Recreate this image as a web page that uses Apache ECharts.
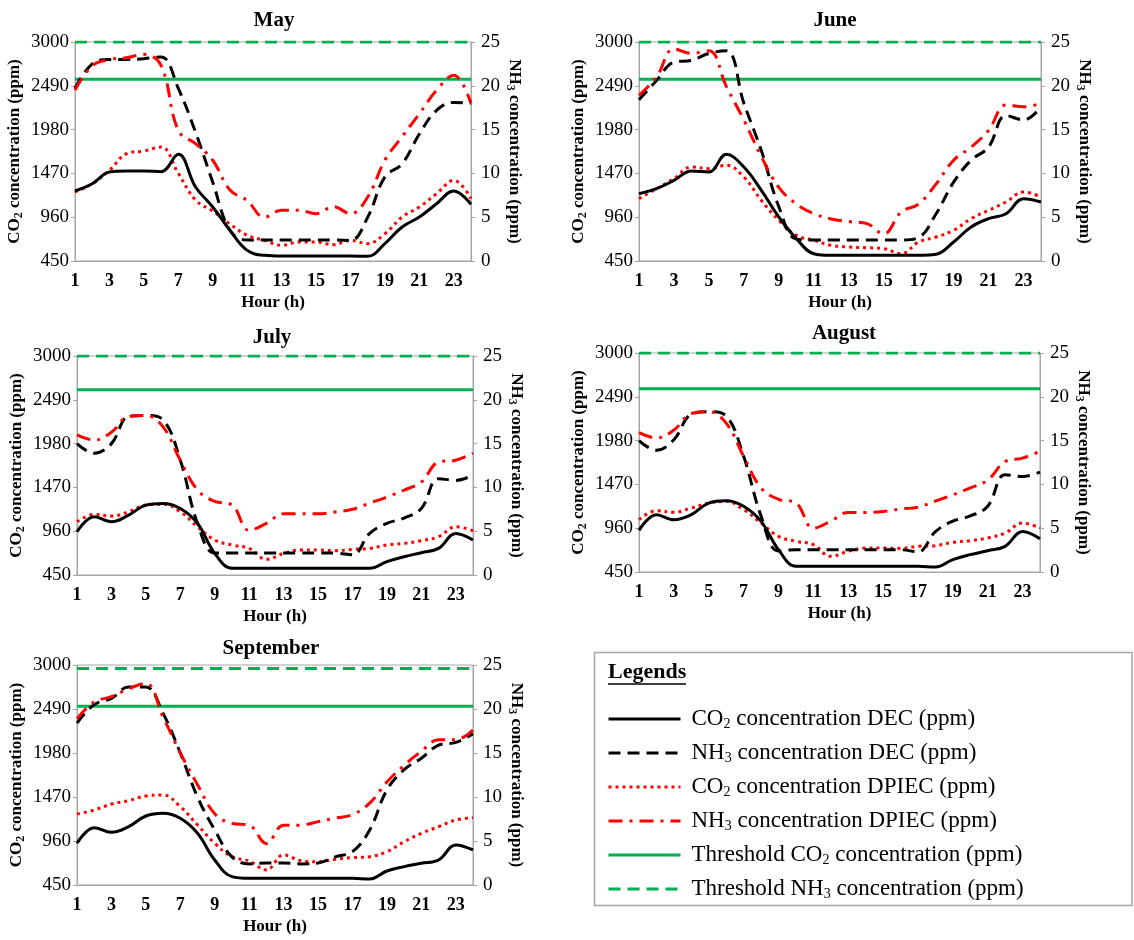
<!DOCTYPE html>
<html>
<head>
<meta charset="utf-8">
<title>CO2 and NH3 concentration by hour, May to September</title>
<script src="https://cdn.jsdelivr.net/npm/echarts@6/dist/echarts.min.js"></script>
<style>
  html, body { margin: 0; padding: 0; background: #fff; }
  #chart { width: 1134px; height: 940px; }
</style>
</head>
<body>
<div id="chart"></div>
<script>
// x axis categories and left axis ticks
const hours = ['1', '2', '3', '4', '5', '6', '7', '8', '9', '10', '11', '12',
  '13', '14', '15', '16', '17', '18', '19', '20', '21', '22', '23', '24'];
const co2Ticks = [450, 960, 1470, 1980, 2490, 3000];

const months = ['May', 'June', 'July', 'August', 'September'];
const thresholdCo2 = [2565, 2565, 2608, 2585, 2521];
const thresholdNh3 = [25, 25, 25, 25, 24.6];

// May
const mayCo2Dec = [1265, 1350, 1486, 1498, 1498, 1490, 1692, 1312, 1079, 807, 574, 516, 508, 508, 508, 508, 508, 504, 652, 846, 962, 1117, 1265, 1110];
const mayNh3Dec = [19.7, 22.5, 23.0, 23.0, 23.1, 23.3, 19.7, 14.7, 9.0, 3.5, 2.4, 2.4, 2.4, 2.4, 2.4, 2.4, 2.35, 5.0, 9.6, 11.1, 14.5, 17.2, 18.1, 18.0];
const mayCo2Dpiec = [1253, 1350, 1506, 1700, 1731, 1777, 1470, 1160, 1030, 880, 749, 691, 632, 671, 671, 640, 691, 652, 768, 962, 1079, 1234, 1389, 1176];
const mayNh3Dpiec = [19.5, 22.3, 23.0, 23.2, 23.6, 22.3, 14.9, 13.4, 11.5, 8.1, 6.9, 5.0, 5.8, 5.8, 5.4, 6.2, 5.4, 7.3, 11.5, 14.2, 16.8, 19.5, 21.2, 18.0];

// June
const juneCo2Dec = [1234, 1292, 1389, 1498, 1486, 1692, 1544, 1273, 962, 710, 535, 516, 516, 516, 516, 516, 516, 528, 671, 846, 943, 1001, 1176, 1137];
const juneNh3Dec = [18.4, 20.6, 22.7, 22.9, 23.7, 24.0, 18.0, 12.6, 6.2, 2.5, 2.4, 2.4, 2.4, 2.4, 2.4, 2.4, 2.7, 5.4, 9.0, 11.5, 13.0, 16.6, 16.1, 17.6];
const juneCo2Dpiec = [1176, 1292, 1409, 1544, 1525, 1564, 1428, 1156, 923, 749, 691, 632, 613, 605, 594, 535, 671, 729, 807, 943, 1040, 1137, 1253, 1195];
const juneNh3Dpiec = [18.9, 21.0, 24.2, 23.7, 24.0, 19.9, 16.1, 11.9, 8.4, 6.5, 5.4, 4.8, 4.5, 4.3, 3.1, 5.6, 6.5, 8.8, 11.5, 13.0, 14.9, 17.8, 17.6, 18.0];

// July
const julyCo2Dec = [954, 1128, 1070, 1147, 1264, 1283, 1225, 1051, 702, 528, 528, 528, 528, 528, 528, 528, 528, 528, 605, 663, 710, 760, 934, 857];
const julyNh3Dec = [15.0, 13.9, 15.0, 18.1, 18.2, 17.7, 13.1, 5.9, 2.5, 2.5, 2.5, 2.5, 2.5, 2.5, 2.5, 2.5, 2.3, 4.75, 5.9, 6.5, 7.6, 11.0, 10.8, 11.4];
const julyCo2Dpiec = [1070, 1155, 1136, 1186, 1264, 1275, 1186, 1012, 857, 799, 760, 632, 702, 741, 741, 733, 748, 760, 799, 818, 849, 896, 1012, 965];
const julyNh3Dpiec = [16.0, 15.4, 16.3, 18.1, 18.2, 16.9, 13.1, 9.7, 8.4, 8.0, 5.1, 5.9, 7.0, 7.0, 7.0, 7.2, 7.5, 8.2, 8.9, 9.7, 10.6, 12.9, 13.1, 13.9];

// August
const augCo2Dec = [935, 1118, 1059, 1118, 1253, 1280, 1215, 1040, 710, 516, 516, 516, 516, 516, 516, 516, 516, 508, 594, 652, 698, 749, 923, 838];
const augNh3Dec = [15.0, 13.9, 15.1, 18.0, 18.3, 17.8, 13.2, 6.4, 2.4, 2.55, 2.55, 2.55, 2.55, 2.55, 2.55, 2.55, 2.3, 4.6, 5.8, 6.4, 7.5, 11.1, 10.9, 11.4];
const augCo2Dpiec = [1059, 1164, 1145, 1195, 1253, 1273, 1176, 1020, 865, 807, 768, 632, 691, 729, 729, 725, 749, 757, 795, 815, 846, 904, 1020, 962];
const augNh3Dpiec = [15.9, 15.3, 16.2, 18.1, 18.3, 17.0, 13.2, 9.6, 8.3, 7.9, 5.0, 5.8, 6.8, 6.8, 6.9, 7.2, 7.4, 8.1, 8.8, 9.6, 10.5, 12.6, 13.0, 13.8];

// September
const sepCo2Dec = [933, 1115, 1060, 1126, 1250, 1281, 1223, 1049, 740, 547, 527, 527, 527, 527, 527, 527, 527, 520, 612, 663, 701, 740, 914, 856];
const sepNh3Dec = [18.4, 20.5, 21.2, 22.5, 22.5, 19.5, 15.0, 10.0, 6.25, 3.2, 2.4, 2.5, 2.5, 2.4, 2.5, 3.2, 3.8, 6.25, 10.8, 13.1, 14.4, 15.9, 16.2, 17.2];
const sepCo2Dpiec = [1273, 1319, 1389, 1428, 1482, 1493, 1358, 1146, 933, 778, 728, 624, 798, 732, 720, 748, 767, 778, 836, 952, 1049, 1126, 1203, 1230];
const sepNh3Dpiec = [18.9, 20.8, 21.4, 22.3, 22.9, 19.1, 15.0, 11.4, 8.1, 7.0, 6.8, 4.7, 6.8, 6.8, 7.2, 7.6, 8.0, 9.3, 11.7, 13.6, 15.2, 16.5, 16.5, 17.6];

const co2Dec = [mayCo2Dec, juneCo2Dec, julyCo2Dec, augCo2Dec, sepCo2Dec];
const nh3Dec = [mayNh3Dec, juneNh3Dec, julyNh3Dec, augNh3Dec, sepNh3Dec];
const co2Dpiec = [mayCo2Dpiec, juneCo2Dpiec, julyCo2Dpiec, augCo2Dpiec, sepCo2Dpiec];
const nh3Dpiec = [mayNh3Dpiec, juneNh3Dpiec, julyNh3Dpiec, augNh3Dpiec, sepNh3Dpiec];

// plot boxes of the five panels
const panels = [
  {left: 75, top: 42, width: 396, height: 219, titleX: 274, titleY: 10},
  {left: 639, top: 42, width: 402, height: 219, titleX: 835, titleY: 10},
  {left: 77, top: 356, width: 396, height: 219, titleX: 272, titleY: 327},
  {left: 639, top: 353, width: 401, height: 219, titleX: 844, titleY: 323},
  {left: 77, top: 665, width: 396, height: 220, titleX: 271, titleY: 638}
];

const font = '"Liberation Serif", "Times New Roman", serif';
const gray = '#a6a6a6';
const red = '#ff0000';
const green = '#00b050';

const NAME_CO2_DEC = 'CO2 concentration DEC (ppm)';
const NAME_NH3_DEC = 'NH3 concentration DEC (ppm)';
const NAME_CO2_DPIEC = 'CO2 concentration DPIEC (ppm)';
const NAME_NH3_DPIEC = 'NH3 concentration DPIEC (ppm)';
const NAME_THR_CO2 = 'Threshold CO2 concentration (ppm)';
const NAME_THR_NH3 = 'Threshold NH3 concentration (ppm)';

const chart = echarts.init(document.getElementById('chart'));

const title = [], grid = [], xAxis = [], yAxis = [], series = [];

function lineSeries(name, data, i, onRight, color, type) {
  return {
    name: name,
    type: 'line',
    xAxisIndex: i,
    yAxisIndex: onRight ? 2 * i + 1 : 2 * i,
    data: data,
    symbol: 'none',
    showSymbol: false,
    smooth: 0.4,
    lineStyle: {color: color, width: 3, type: type},
    itemStyle: {color: color},
    emphasis: {disabled: true}
  };
}

const subRich = {s: {fontFamily: font, fontSize: 12, fontWeight: 'bold', color: '#000', lineHeight: 8, verticalAlign: 'bottom'}};

months.forEach((m, i) => {
  const p = panels[i];
  title.push({
    text: m, left: p.titleX, top: p.titleY, textAlign: 'center', padding: 0,
    textStyle: {fontFamily: font, fontSize: 21, fontWeight: 'bold', color: '#000'}
  });
  grid.push({
    left: p.left, top: p.top, width: p.width, height: p.height,
    show: true, borderColor: gray, borderWidth: 1, backgroundColor: 'transparent',
    outerBoundsMode: 'none'
  });
  xAxis.push({
    type: 'category', gridIndex: i, data: hours, boundaryGap: false,
    name: 'Hour (h)', nameLocation: 'middle', nameGap: 33, nameMoveOverlap: false,
    nameTextStyle: {fontFamily: font, fontSize: 17, fontWeight: 'bold', color: '#000'},
    axisLine: {lineStyle: {color: gray, width: 1}},
    axisTick: {show: false},
    axisLabel: {interval: 1, margin: 11, fontFamily: font, fontSize: 18, fontWeight: 'bold', color: '#000'},
    splitLine: {show: false}
  });
  yAxis.push({
    type: 'value', gridIndex: i, position: 'left', min: 450, max: 3000,
    name: 'CO{s|2} concentration (ppm)', nameLocation: 'middle', nameGap: 50, nameRotate: 90,
    nameMoveOverlap: false,
    nameTextStyle: {
      fontFamily: font, fontSize: 17, fontWeight: 'bold', color: '#000', lineHeight: 20, rich: subRich
    },
    axisLine: {show: true, lineStyle: {color: gray, width: 1}},
    axisTick: {show: true, length: 4, customValues: co2Ticks, lineStyle: {color: gray}},
    axisLabel: {customValues: co2Ticks, formatter: v => String(v), margin: 6, fontFamily: font, fontSize: 19, color: '#000'},
    splitLine: {show: false}
  });
  yAxis.push({
    type: 'value', gridIndex: i, position: 'right', min: 0, max: 25, interval: 5,
    name: 'NH{s|3} concentration (ppm)', nameLocation: 'middle', nameGap: 33, nameRotate: -90,
    nameMoveOverlap: false,
    nameTextStyle: {
      fontFamily: font, fontSize: 17, fontWeight: 'bold', color: '#000', lineHeight: 20, rich: subRich
    },
    axisLine: {show: true, lineStyle: {color: gray, width: 1}},
    axisTick: {show: true, length: 4, lineStyle: {color: gray}},
    axisLabel: {margin: 10, fontFamily: font, fontSize: 19, color: '#000'},
    splitLine: {show: false}
  });

  series.push(lineSeries(NAME_THR_CO2, hours.map(() => thresholdCo2[i]), i, false, green, 'solid'));
  series.push(lineSeries(NAME_THR_NH3, hours.map(() => thresholdNh3[i]), i, true, green, [12, 7]));
  series.push(lineSeries(NAME_CO2_DPIEC, co2Dpiec[i], i, false, red, [3, 4]));
  series.push(lineSeries(NAME_CO2_DEC, co2Dec[i], i, false, '#000', 'solid'));
  series.push(lineSeries(NAME_NH3_DEC, nh3Dec[i], i, true, '#000', [12, 7]));
  series.push(lineSeries(NAME_NH3_DPIEC, nh3Dpiec[i], i, true, red, [14, 7, 3, 7]));
});

const option = {
  animation: false,
  backgroundColor: '#fff',
  textStyle: {fontFamily: font},
  title: title,
  grid: grid,
  xAxis: xAxis,
  yAxis: yAxis,
  series: series,
  legend: {
    orient: 'vertical', left: 607, top: 707, padding: 0,
    itemWidth: 72, itemHeight: 14, itemGap: 10,
    data: [NAME_CO2_DEC, NAME_NH3_DEC, NAME_CO2_DPIEC, NAME_NH3_DPIEC, NAME_THR_CO2, NAME_THR_NH3],
    formatter: n => n.replace('CO2', 'CO{s|2}').replace('NH3', 'NH{s|3}'),
    itemStyle: {opacity: 0},
    lineStyle: {width: 'inherit'},
    textStyle: {
      fontFamily: font, fontSize: 23, color: '#000', lineHeight: 24, padding: [0, 0, 0, 6],
      rich: {s: {fontFamily: font, fontSize: 14, color: '#000', lineHeight: 10, verticalAlign: 'bottom'}}
    }
  },
  graphic: [
    {type: 'rect', shape: {x: 594.5, y: 652.5, width: 537.5, height: 253}, style: {fill: 'none', stroke: gray, lineWidth: 1.5}},
    {type: 'text', x: 608, y: 661, style: {text: 'Legends', font: 'bold 22px ' + font, fill: '#000'}},
    {type: 'line', shape: {x1: 608, y1: 684, x2: 686, y2: 684}, style: {stroke: '#000', lineWidth: 1.5}}
  ]
};

chart.setOption(option);
</script>
</body>
</html>
